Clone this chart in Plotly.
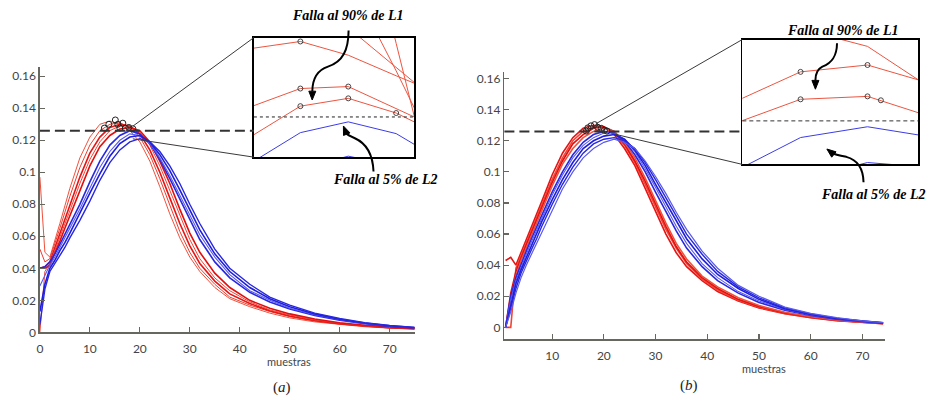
import plotly.graph_objects as go

# ---------------- data ----------------
thr = 0.126

x_a = [0, 1, 2, 3, 4, 5, 6, 8, 10, 12, 14, 16, 18, 20, 22, 24, 26, 28, 30, 32, 35, 38, 42, 46, 50, 55, 60, 65, 70, 75]
red_a = [
    [0.097, 0.050, 0.047, 0.057, 0.068, 0.079, 0.090, 0.109, 0.122, 0.130, 0.132, 0.130, 0.126, 0.119, 0.107, 0.091, 0.074, 0.059, 0.047, 0.038, 0.028, 0.021, 0.016, 0.012, 0.009, 0.0065, 0.0048, 0.0035, 0.0026, 0.002],
    [0.052, 0.044, 0.046, 0.055, 0.065, 0.075, 0.085, 0.103, 0.117, 0.126, 0.130, 0.131, 0.128, 0.122, 0.111, 0.096, 0.079, 0.063, 0.050, 0.040, 0.030, 0.022, 0.017, 0.013, 0.0098, 0.007, 0.0051, 0.0037, 0.0027, 0.0021],
    [0.040, 0.041, 0.044, 0.053, 0.062, 0.071, 0.080, 0.097, 0.112, 0.122, 0.128, 0.130, 0.129, 0.124, 0.114, 0.100, 0.084, 0.068, 0.054, 0.043, 0.032, 0.024, 0.018, 0.0135, 0.0102, 0.0074, 0.0054, 0.0039, 0.0029, 0.0022],
    [0.000, 0.038, 0.043, 0.051, 0.059, 0.067, 0.076, 0.093, 0.108, 0.119, 0.126, 0.129, 0.129, 0.125, 0.117, 0.104, 0.089, 0.073, 0.058, 0.046, 0.034, 0.026, 0.019, 0.014, 0.0108, 0.0078, 0.0057, 0.0041, 0.003, 0.0023],
    [0.040, 0.040, 0.042, 0.049, 0.057, 0.065, 0.073, 0.089, 0.104, 0.116, 0.123, 0.127, 0.128, 0.126, 0.119, 0.107, 0.093, 0.077, 0.062, 0.050, 0.037, 0.028, 0.020, 0.015, 0.0115, 0.0083, 0.006, 0.0044, 0.0032, 0.0024],
]
blue_a = [
    [0.040, 0.041, 0.044, 0.049, 0.055, 0.061, 0.067, 0.080, 0.094, 0.107, 0.117, 0.123, 0.126, 0.124, 0.118, 0.108, 0.096, 0.083, 0.070, 0.058, 0.044, 0.034, 0.025, 0.019, 0.0145, 0.0105, 0.0075, 0.0053, 0.0037, 0.0027],
    [0.029, 0.036, 0.042, 0.047, 0.053, 0.058, 0.064, 0.077, 0.090, 0.103, 0.113, 0.120, 0.124, 0.123, 0.118, 0.109, 0.098, 0.086, 0.073, 0.061, 0.047, 0.036, 0.026, 0.020, 0.015, 0.011, 0.0078, 0.0055, 0.0039, 0.0028],
    [0.013, 0.030, 0.040, 0.045, 0.051, 0.056, 0.062, 0.074, 0.087, 0.099, 0.110, 0.118, 0.122, 0.123, 0.119, 0.111, 0.101, 0.089, 0.076, 0.064, 0.049, 0.038, 0.028, 0.021, 0.016, 0.0115, 0.0082, 0.0058, 0.0041, 0.003],
    [0.005, 0.027, 0.038, 0.043, 0.048, 0.053, 0.059, 0.070, 0.082, 0.095, 0.106, 0.114, 0.119, 0.121, 0.119, 0.113, 0.104, 0.093, 0.080, 0.068, 0.052, 0.040, 0.030, 0.022, 0.017, 0.012, 0.0086, 0.006, 0.0043, 0.0031],
]
peak_a_x = [12.9, 13.8, 15.1, 15.6, 16.0, 16.6, 17.1, 17.8, 18.6]
peak_a_y = [0.1276, 0.130, 0.1327, 0.130, 0.1276, 0.1307, 0.1276, 0.128, 0.1272]

x_b = [1, 2, 3, 4, 5, 6, 7, 8, 10, 12, 14, 16, 18, 20, 22, 24, 26, 28, 30, 32, 34, 36, 39, 42, 46, 50, 55, 60, 65, 70, 74]
red_b = [
    [0.043, 0.045, 0.040, 0.048, 0.056, 0.064, 0.072, 0.081, 0.098, 0.112, 0.122, 0.128, 0.130, 0.129, 0.124, 0.115, 0.104, 0.089, 0.074, 0.060, 0.048, 0.039, 0.030, 0.023, 0.017, 0.0125, 0.0088, 0.0062, 0.0043, 0.003, 0.0023],
    [0.000, 0.000, 0.038, 0.046, 0.054, 0.062, 0.070, 0.079, 0.095, 0.109, 0.120, 0.126, 0.129, 0.129, 0.125, 0.117, 0.106, 0.092, 0.077, 0.063, 0.051, 0.041, 0.031, 0.024, 0.0175, 0.013, 0.009, 0.0064, 0.0045, 0.0031, 0.0024],
    [0.000, 0.022, 0.036, 0.045, 0.053, 0.061, 0.069, 0.077, 0.093, 0.107, 0.118, 0.124, 0.128, 0.129, 0.126, 0.118, 0.107, 0.094, 0.079, 0.065, 0.052, 0.042, 0.032, 0.025, 0.018, 0.0135, 0.0093, 0.0066, 0.0046, 0.0032, 0.0025],
    [0.000, 0.018, 0.033, 0.043, 0.051, 0.059, 0.067, 0.075, 0.091, 0.105, 0.115, 0.122, 0.126, 0.128, 0.126, 0.119, 0.109, 0.096, 0.081, 0.067, 0.054, 0.044, 0.033, 0.026, 0.019, 0.014, 0.0097, 0.0068, 0.0048, 0.0033, 0.0026],
]
blue_b = [
    [0.0, 0.020, 0.032, 0.041, 0.049, 0.057, 0.064, 0.072, 0.087, 0.100, 0.111, 0.119, 0.124, 0.126, 0.125, 0.120, 0.111, 0.100, 0.087, 0.074, 0.062, 0.051, 0.039, 0.030, 0.022, 0.016, 0.011, 0.0076, 0.0052, 0.0036, 0.0027],
    [0.0, 0.018, 0.030, 0.039, 0.047, 0.055, 0.062, 0.070, 0.085, 0.098, 0.109, 0.117, 0.122, 0.125, 0.125, 0.121, 0.113, 0.102, 0.090, 0.077, 0.065, 0.054, 0.041, 0.032, 0.023, 0.017, 0.0115, 0.008, 0.0055, 0.0038, 0.0028],
    [0.0, 0.015, 0.028, 0.037, 0.045, 0.053, 0.060, 0.068, 0.082, 0.095, 0.106, 0.115, 0.120, 0.123, 0.124, 0.121, 0.114, 0.104, 0.092, 0.080, 0.068, 0.057, 0.044, 0.034, 0.025, 0.018, 0.012, 0.0083, 0.0057, 0.0039, 0.0029],
    [0.0, 0.012, 0.025, 0.035, 0.043, 0.050, 0.057, 0.065, 0.079, 0.092, 0.103, 0.112, 0.118, 0.121, 0.122, 0.120, 0.115, 0.106, 0.095, 0.083, 0.071, 0.060, 0.047, 0.036, 0.026, 0.019, 0.0125, 0.0086, 0.0059, 0.004, 0.003],
    [0.0, 0.010, 0.022, 0.032, 0.040, 0.047, 0.054, 0.062, 0.076, 0.089, 0.100, 0.109, 0.115, 0.119, 0.121, 0.119, 0.115, 0.107, 0.097, 0.086, 0.074, 0.063, 0.049, 0.038, 0.027, 0.020, 0.013, 0.009, 0.0062, 0.0042, 0.0031],
]
peak_b_x = [16.6, 16.9, 17.5, 18.2, 18.8, 19.5, 20.1, 20.6]
peak_b_y = [0.1262, 0.1283, 0.1296, 0.1304, 0.1287, 0.128, 0.1268, 0.1262]

# zoomed insets (samples around the peaks)
ins_a_x = [14, 15, 16, 17, 18]
ins_a_red = [
    [0.1330, 0.1337, 0.1323, 0.1302, 0.1282],
    [0.1430, 0.1390, 0.1351, 0.1311, 0.1270],
    [0.1590, 0.1497, 0.1402, 0.1307, 0.1207],
    [0.1920, 0.1730, 0.1532, 0.1335, 0.1138],
    [0.1271, 0.1289, 0.1291, 0.1269, 0.1246],
    [0.1241, 0.1271, 0.1279, 0.1264, 0.1240],
]
ins_a_blue = [
    [0.1214, 0.1244, 0.1255, 0.1243, 0.1214],
    [0.1190, 0.1207, 0.1220, 0.1210, 0.1195],
]
ins_a_mx = [15, 15, 16, 15, 16, 17]
ins_a_my = [0.1337, 0.1289, 0.1291, 0.1271, 0.1279, 0.1264]

ins_b_x = [18, 19, 20, 21]
ins_b_red = [
    [0.1370, 0.1354, 0.1336, 0.1291],
    [0.1279, 0.1310, 0.1317, 0.1297],
    [0.1257, 0.1282, 0.1285, 0.1263],
]
ins_b_blue = [
    [0.1208, 0.1243, 0.1254, 0.1243],
    [0.1190, 0.1200, 0.12175, 0.1212],
]
ins_b_mx = [19, 20, 19, 20, 20.2]
ins_b_my = [0.1310, 0.1317, 0.1282, 0.1285, 0.1281]

xticks_a = [0, 10, 20, 30, 40, 50, 60, 70]
xticks_b = [10, 20, 30, 40, 50, 60, 70]
yticks = [0, 0.02, 0.04, 0.06, 0.08, 0.1, 0.12, 0.14, 0.16]
ytick_text = ["0", "0.02", "0.04", "0.06", "0.08", "0.1", "0.12", "0.14", "0.16"]

# ---------------- layout helpers ----------------
W, H = 941, 404
def PX(p): return p / W
def PY(p): return 1 - p / H

dom = {
    "xa": [PX(37), PX(413)], "ya": [PY(338), PY(67)],
    "xb": [PX(503), PX(885)], "yb": [PY(345), PY(72)],
    "xia": [PX(251.7), PX(412.7)], "yia": [PY(159.3), PY(37.3)],
    "xib": [PX(741.7), PX(918.3)], "yib": [PY(166.7), PY(39.3)],
}
rng = {
    "xa": [0, 75], "ya": [0, 0.166],
    "xb": [0.77, 74.4], "yb": [-0.0076, 0.1645],
    "xia": [14.03, 17.38], "yia": [0.1219, 0.1341],
    "xib": [18.13, 20.76], "yib": [0.12156, 0.1343],
}
def to_paper(k, v):
    d, r = dom[k], rng[k]
    return d[0] + (v - r[0]) / (r[1] - r[0]) * (d[1] - d[0])

RED = ["rgb(240,80,60)", "rgb(235,60,45)", "rgb(230,20,20)", "rgb(240,70,55)", "rgb(225,15,15)"]
RW = [1.0, 1.0, 1.6, 1.0, 1.6]
BLUE = ["rgb(40,40,225)", "rgb(90,90,235)", "rgb(30,30,220)", "rgb(40,40,225)", "rgb(90,90,235)"]
BW = [1.6, 1.1, 1.6, 1.4, 1.2]

fig = go.Figure()

def add_line(x, y, color, width, xa, ya):
    fig.add_trace(go.Scatter(x=x, y=y, mode="lines", line=dict(color=color, width=width),
                             xaxis=xa, yaxis=ya, showlegend=False, hoverinfo="skip"))

for i, y in enumerate(red_a):
    add_line(x_a, y, RED[i], RW[i], "x", "y")
for i, y in enumerate(blue_a):
    add_line(x_a, y, BLUE[i], BW[i], "x", "y")
for i, y in enumerate(red_b):
    add_line(x_b, y, RED[(i + 2) % 5], 1.6, "x2", "y2")
for i, y in enumerate(blue_b):
    add_line(x_b, y, BLUE[i], BW[i], "x2", "y2")

mk = dict(symbol="circle-open", size=6, color="#222", line=dict(width=1))
fig.add_trace(go.Scatter(x=peak_a_x, y=peak_a_y, mode="markers", marker=mk, xaxis="x", yaxis="y",
                         showlegend=False, hoverinfo="skip"))
fig.add_trace(go.Scatter(x=peak_b_x, y=peak_b_y, mode="markers", marker=mk, xaxis="x2", yaxis="y2",
                         showlegend=False, hoverinfo="skip"))

# insets
for y in ins_a_red:
    add_line(ins_a_x, y, "rgb(235,85,65)", 1.0, "x3", "y3")
for y in ins_a_blue:
    add_line(ins_a_x, y, "rgb(60,60,230)", 1.0, "x3", "y3")
for y in ins_b_red:
    add_line(ins_b_x, y, "rgb(235,85,65)", 1.0, "x4", "y4")
for y in ins_b_blue:
    add_line(ins_b_x, y, "rgb(60,60,230)", 1.0, "x4", "y4")
mki = dict(symbol="circle-open", size=5, color="#333", line=dict(width=0.9))
fig.add_trace(go.Scatter(x=ins_a_mx, y=ins_a_my, mode="markers", marker=mki, xaxis="x3", yaxis="y3",
                         showlegend=False, hoverinfo="skip", cliponaxis=False))
fig.add_trace(go.Scatter(x=ins_b_mx, y=ins_b_my, mode="markers", marker=mki, xaxis="x4", yaxis="y4",
                         showlegend=False, hoverinfo="skip", cliponaxis=False))

AX = "#66675e"
tickfont = dict(family="Lato", size=12, color="#444")
main_ax = dict(showline=True, linecolor=AX, linewidth=1.5, ticks="inside", ticklen=5, tickcolor=AX,
               tickwidth=1.2, showgrid=False, zeroline=False, tickfont=tickfont, fixedrange=True)
inset_ax = dict(showline=True, mirror=True, linecolor="black", linewidth=1.5, ticks="",
                showticklabels=False, showgrid=False, zeroline=False, fixedrange=True)

fig.update_layout(
    width=W, height=H, autosize=False,
    margin=dict(l=0, r=0, t=0, b=0),
    paper_bgcolor="white", plot_bgcolor="rgba(0,0,0,0)",
    xaxis=dict(domain=dom["xa"], range=rng["xa"], anchor="y", tickvals=xticks_a, ticklabelstandoff=5, **main_ax),
    yaxis=dict(domain=dom["ya"], range=rng["ya"], anchor="x", tickvals=yticks, ticktext=ytick_text, **main_ax),
    xaxis2=dict(domain=dom["xb"], range=rng["xb"], anchor="y2", tickvals=xticks_b, ticklabelstandoff=5, **main_ax),
    yaxis2=dict(domain=dom["yb"], range=rng["yb"], anchor="x2", tickvals=yticks, ticktext=ytick_text, **main_ax),
    xaxis3=dict(domain=dom["xia"], range=rng["xia"], anchor="y3", **inset_ax),
    yaxis3=dict(domain=dom["yia"], range=rng["yia"], anchor="x3", **inset_ax),
    xaxis4=dict(domain=dom["xib"], range=rng["xib"], anchor="y4", **inset_ax),
    yaxis4=dict(domain=dom["yib"], range=rng["yib"], anchor="x4", **inset_ax),
)

shapes = []
# threshold lines
shapes.append(dict(type="line", xref="paper", yref="y", x0=dom["xa"][0], x1=dom["xia"][0], y0=thr, y1=thr,
                   line=dict(color="#333", width=2, dash="10px,5px")))
shapes.append(dict(type="line", xref="paper", yref="y2", x0=dom["xb"][0], x1=dom["xib"][0], y0=thr, y1=thr,
                   line=dict(color="#333", width=2, dash="10px,5px")))
shapes.append(dict(type="line", xref="x3 domain", yref="y3", x0=0, x1=1, y0=thr, y1=thr,
                   line=dict(color="#222", width=1, dash="3px,3px")))
shapes.append(dict(type="line", xref="x4 domain", yref="y4", x0=0, x1=1, y0=thr, y1=thr,
                   line=dict(color="#333", width=1, dash="4px,3px")))

# connector lines (from the zoomed region to the inset corners)
conn = [
    ("xa", "ya", 18.6, 0.1288, dom["xia"][0], dom["yia"][1]),
    ("xa", "ya", 18.6, 0.1209, dom["xia"][0], dom["yia"][0]),
    ("xb", "yb", 18.5, 0.1310, dom["xib"][0], dom["yib"][1]),
    ("xb", "yb", 22.3, 0.1241, dom["xib"][0], dom["yib"][0]),
]
for kx, ky, xv, yv, px1, py1 in conn:
    shapes.append(dict(type="line", xref="paper", yref="paper",
                       x0=to_paper(kx, xv), y0=to_paper(ky, yv), x1=px1, y1=py1,
                       line=dict(color="#3a3a3a", width=1)))

# curved arrows (pixel coordinates -> paper)
def P(pt): return f"{PX(pt[0]):.5f},{PY(pt[1]):.5f}"
def curve(pts):
    s = "M " + P(pts[0])
    for i in range(1, len(pts), 3):
        s += " C " + P(pts[i]) + " " + P(pts[i + 1]) + " " + P(pts[i + 2])
    return s
def head(tip, frm, L=9, Wd=7):
    dx, dy = tip[0] - frm[0], tip[1] - frm[1]
    n = (dx * dx + dy * dy) ** 0.5
    ux, uy = dx / n, dy / n
    bx, by = tip[0] - ux * L, tip[1] - uy * L
    a = (bx - uy * Wd / 2, by + ux * Wd / 2)
    b = (bx + uy * Wd / 2, by - ux * Wd / 2)
    return "M " + P(tip) + " L " + P(a) + " L " + P(b) + " Z"

arrows = [
    ([(346.7, 30), (346.5, 50), (341, 62), (326, 67), (314, 71), (310.5, 80), (310.3, 92)], (310.2, 101)),
    ([(371.7, 174), (371, 156), (364, 145), (353, 140), (347, 137.5), (345, 136), (344.5, 135)], (341.5, 127.5)),
    ([(836.7, 43), (836.5, 56), (832, 63), (822, 67), (816, 70), (815, 77), (815, 81)], (815, 90)),
    ([(863.3, 185), (863, 170), (857, 162), (846, 159), (838, 157.5), (833, 156), (831.5, 155)], (826.5, 151)),
]
for pts, tip in arrows:
    shapes.append(dict(type="path", xref="paper", yref="paper", path=curve(pts),
                       line=dict(color="black", width=2)))
    shapes.append(dict(type="path", xref="paper", yref="paper", path=head(tip, pts[-1]),
                       fillcolor="black", line=dict(color="black", width=1)))
fig.update_layout(shapes=shapes)

serif_bi = dict(family="Liberation Serif", size=14, color="black")
ann = []
def text(px, py, t, font):
    ann.append(dict(x=PX(px), y=PY(py), xref="paper", yref="paper", text=t, showarrow=False,
                    font=font, xanchor="center", yanchor="middle"))
text(346, 15, "<b><i>Falla al 90% de L1</i></b>", serif_bi)
text(383, 182, "<b><i>Falla al 5% de L2</i></b>", serif_bi)
text(842.5, 30, "<b><i>Falla al 90% de L1</i></b>", serif_bi)
text(873, 197, "<b><i>Falla al 5% de L2</i></b>", serif_bi)
lab = dict(family="Lato", size=11, color="#444")
text(287, 368, "muestras", lab)
text(763, 375, "muestras", lab)
cap = dict(family="Liberation Serif", size=15, color="#222")
text(280, 394, "(<i>a</i>)", cap)
text(688, 392, "(<i>b</i>)", cap)
fig.update_layout(annotations=ann)

fig.write_html("out.html", config={"displayModeBar": False, "staticPlot": True},
               post_script="document.body.style.margin='0px';document.body.style.overflow='hidden';")
